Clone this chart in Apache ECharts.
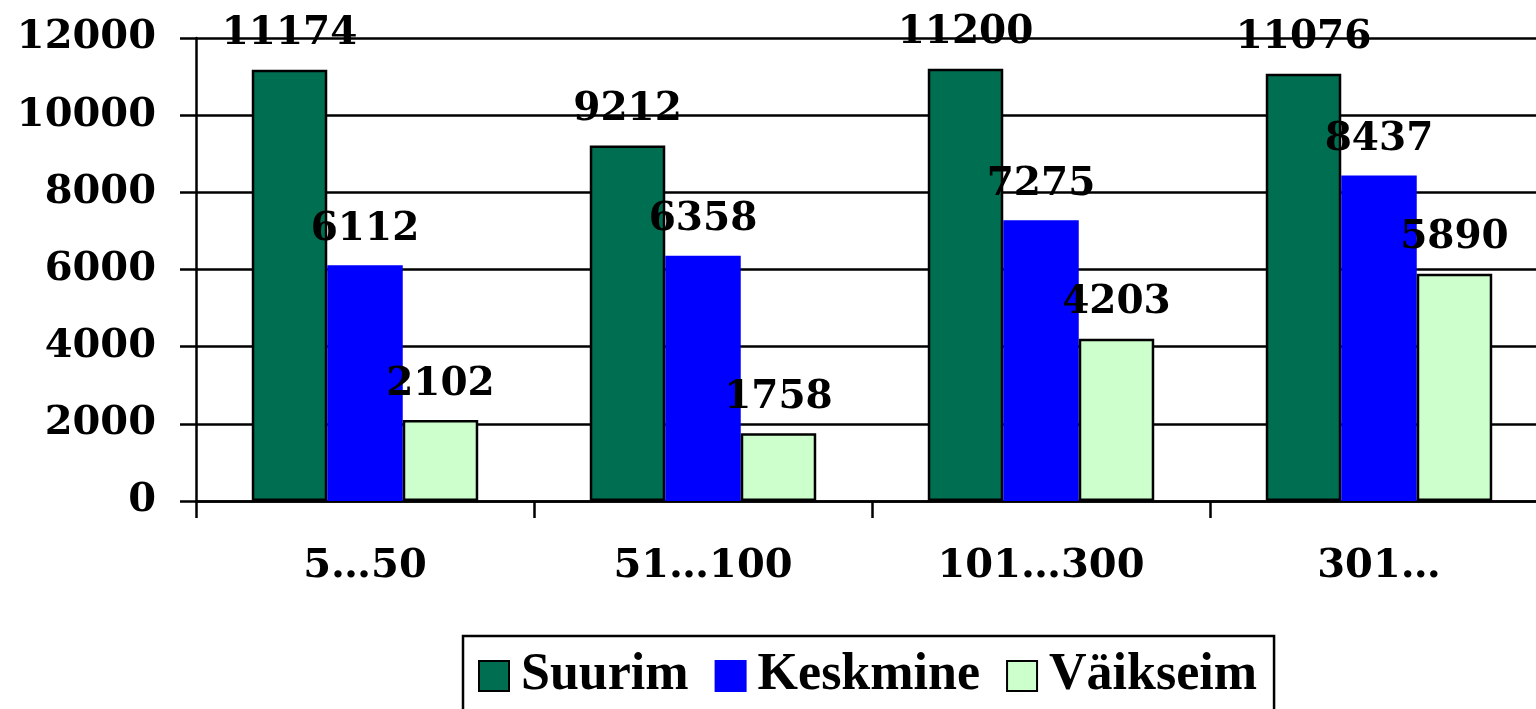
<!DOCTYPE html>
<html>
<head>
<meta charset="utf-8">
<script src="https://cdn.jsdelivr.net/npm/echarts@6/dist/echarts.min.js"></script>
<style>html,body{margin:0;padding:0;background:#fff;overflow:hidden}#c{width:1548px;height:709px}</style>
</head>
<body>
<div id="c"></div>
<script>
const categories = ['5…50', '51…100', '101…300', '301…'];
const seriesNames = ['Suurim', 'Keskmine', 'Väikseim'];
const suurim = [11174, 9212, 11200, 11076];
const keskmine = [6112, 6358, 7275, 8437];
const vaikseim = [2102, 1758, 4203, 5890];
const yTicks = { min: 0, max: 12000, interval: 2000 };

const serif = 'DejaVu Serif';
const chart = echarts.init(document.getElementById('c'), null, { renderer: 'canvas' });
const lbl = { show: true, position: 'top', distance: 16, color: '#000', fontFamily: serif, fontWeight: 'bold', fontSize: 39 };
function mk(name, data, color, border) {
  return {
    name, type: 'bar', data, barGap: '0%', barCategoryGap: '33%',
    itemStyle: { color, borderColor: border, borderWidth: 2.5 },
    label: lbl, emphasis: { disabled: true }
  };
}
chart.setOption({
  animation: false,
  grid: { left: 196, right: 0, top: 38, bottom: 208, containLabel: false },
  legend: {
    left: 463, top: 636, icon: 'rect', itemWidth: 30, itemHeight: 30, itemGap: 26,
    borderColor: '#000', borderWidth: 2.5, padding: [14, 17, 40, 15],
    textStyle: { fontFamily: 'Liberation Serif', fontWeight: 'bold', fontSize: 52, color: '#000', padding: [0, 0, 0, 7] },
    data: seriesNames
  },
  xAxis: {
    type: 'category', data: categories,
    axisLine: { lineStyle: { color: '#000', width: 2.5 } },
    axisTick: { show: true, length: 17, lineStyle: { color: '#000', width: 2.5 } },
    axisLabel: { margin: 46, color: '#000', fontFamily: serif, fontWeight: 'bold', fontSize: 40 }
  },
  yAxis: {
    type: 'value', min: yTicks.min, max: yTicks.max, interval: yTicks.interval,
    axisLine: { show: true, lineStyle: { color: '#000', width: 2.5 } },
    axisTick: { show: true, length: 16, lineStyle: { color: '#000', width: 2.5 } },
    splitLine: { lineStyle: { color: '#000', width: 2.5 } },
    axisLabel: { margin: 40, color: '#000', fontFamily: serif, fontWeight: 'bold', fontSize: 40, formatter: v => String(v) }
  },
  series: [
    mk(seriesNames[0], suurim, '#006F51', '#000'),
    mk(seriesNames[1], keskmine, '#0000FF', '#0000FF'),
    mk(seriesNames[2], vaikseim, '#CCFFCC', '#000')
  ]
});
</script>
</body>
</html>
